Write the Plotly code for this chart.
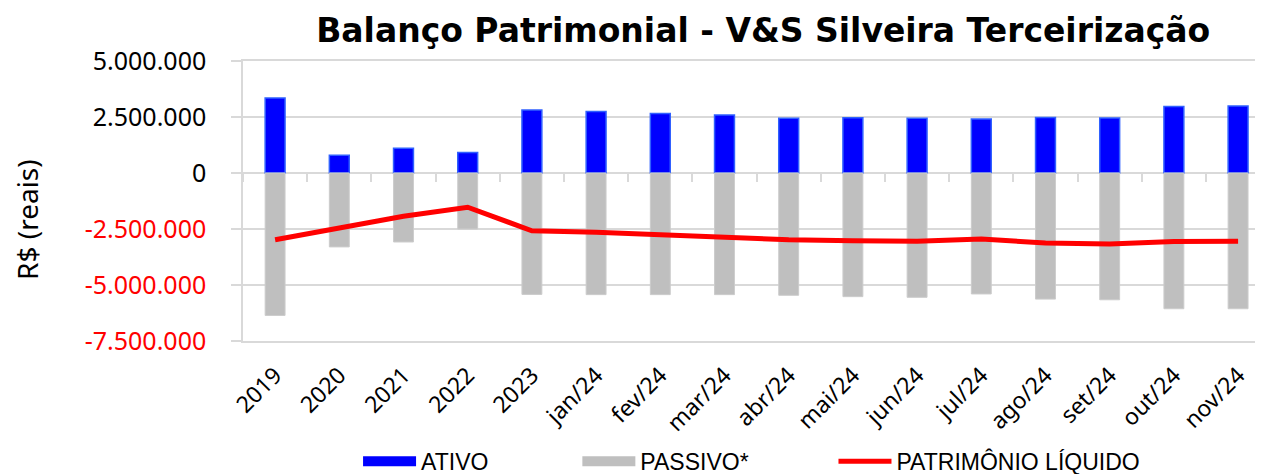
import plotly.graph_objects as go

categories = ["2019", "2020", "2021", "2022", "2023", "jan/24", "fev/24", "mar/24",
              "abr/24", "mai/24", "jun/24", "jul/24", "ago/24", "set/24", "out/24", "nov/24"]
ativo = [3350000, 790000, 1100000, 910000, 2810000, 2750000, 2660000, 2590000,
         2440000, 2470000, 2440000, 2410000, 2480000, 2450000, 2970000, 2990000]
passivo = [-6360000, -3300000, -3080000, -2500000, -5420000, -5430000, -5430000, -5430000,
           -5460000, -5520000, -5550000, -5400000, -5630000, -5660000, -6060000, -6060000]
patrimonio = [-2980000, -2450000, -1930000, -1530000, -2580000, -2650000, -2750000, -2830000,
              -2980000, -3020000, -3050000, -2950000, -3120000, -3170000, -3060000, -3050000]
y_ticks = [-7500000, -5000000, -2500000, 0, 2500000, 5000000]


def fmt(v):
    s = f"{abs(v):,}".replace(",", ".")
    if v < 0:
        return f'<span style="color:#ff0000">-{s}</span>'
    return s


y_ticktext = [fmt(v) for v in y_ticks]

GRID = "#d9d9d9"
FONT = "Noto Sans"

fig = go.Figure()

fig.add_trace(go.Bar(x=categories, y=ativo, name="ATIVO", width=0.31,
                     marker=dict(color="#0000ff", line=dict(color="#3060ff", width=1.5)),
                     showlegend=False, legendgroup="ativo"))
fig.add_trace(go.Bar(x=categories, y=passivo, name="PASSIVO*", width=0.31,
                     marker=dict(color="#bfbfbf", line=dict(color="#cccccc", width=1)),
                     showlegend=False, legendgroup="passivo"))
fig.add_trace(go.Scatter(x=categories, y=patrimonio, name="PATRIMÔNIO LÍQUIDO", mode="lines",
                         line=dict(color="#ff0000", width=5), legend="legend3"))

# legend swatches for the bar series
fig.add_trace(go.Scatter(x=[categories[0]], y=[None], name="ATIVO", mode="lines",
                         line=dict(color="#0000ff", width=10), legend="legend",
                         legendgroup="ativo", hoverinfo="skip"))
fig.add_trace(go.Scatter(x=[categories[0]], y=[None], name="PASSIVO*", mode="lines",
                         line=dict(color="#bfbfbf", width=10), legend="legend2",
                         legendgroup="passivo", hoverinfo="skip"))

# axis at zero carrying the category boundary ticks
fig.add_trace(go.Scatter(x=categories, y=[None] * len(categories), xaxis="x2",
                         showlegend=False, hoverinfo="skip", mode="lines"))

leg_common = dict(orientation="h", yref="paper", y=-0.43, yanchor="middle",
                  xanchor="left", bgcolor="rgba(0,0,0,0)", itemwidth=53,
                  font=dict(family="Liberation Sans", size=23, color="#000000"))

fig.update_layout(
    width=1263, height=474,
    margin=dict(l=235, r=8, t=53, b=141, autoexpand=False),
    paper_bgcolor="white", plot_bgcolor="white",
    barmode="relative",
    title=dict(text="<b>Balanço Patrimonial - V&S Silveira Terceirização</b>",
               font=dict(family="DejaVu Sans", size=33, color="#000000"),
               xref="paper", x=0.51, xanchor="center",
               yref="container", y=0.9536, yanchor="middle"),
    xaxis=dict(type="category", categoryarray=categories, range=[-0.5, 15.388],
               showgrid=False, zeroline=False, showline=True, mirror=True,
               linecolor=GRID, linewidth=1.5, ticks="", tickangle=-45,
               ticklabelstandoff=10,
               tickfont=dict(family=FONT, size=23, color="#000000")),
    xaxis2=dict(type="category", overlaying="x", matches="x", anchor="free",
                position=0.6, side="bottom", ticks="outside", tickson="boundaries",
                ticklen=8, tickwidth=1.5, tickcolor=GRID, showticklabels=False,
                showgrid=False, showline=False, zeroline=False),
    yaxis=dict(range=[-7500000, 5000000], tickvals=y_ticks, ticktext=y_ticktext,
               showgrid=True, gridcolor=GRID, gridwidth=1.5,
               zeroline=True, zerolinecolor=GRID, zerolinewidth=1.5,
               showline=True, linecolor=GRID, linewidth=1.5,
               ticks="outside", ticklen=10, tickwidth=1.5, tickcolor=GRID,
               ticklabelstandoff=20,
               tickfont=dict(family=FONT, size=25, color="#000000")),
    annotations=[dict(text="R$ (reais)", textangle=-90, showarrow=False,
                      xref="paper", yref="paper", x=-0.2118, y=0.4357,
                      xanchor="center", yanchor="middle",
                      font=dict(family=FONT, size=28, color="#000000"))],
    legend=dict(x=0.1128, **leg_common),
    legend2=dict(x=0.3278, **leg_common),
    legend3=dict(x=0.5789, **leg_common),
)

fig.write_html("out.html")
